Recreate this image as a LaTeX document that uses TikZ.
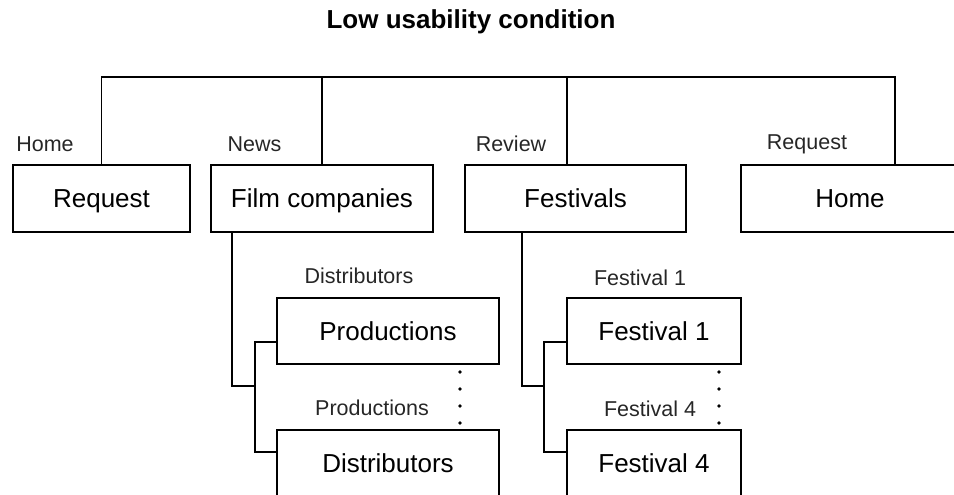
\documentclass[tikz,border=0pt]{standalone}
\usepackage{fontspec}
\setmainfont{Liberation Sans}
\begin{document}
\begin{tikzpicture}[x=1pt,y=-1pt,
  box/.style={draw, line width=1.6pt, rectangle, inner sep=0pt, minimum height=67pt,
    font=\fontsize{26}{30}\selectfont, text height=18.6pt, text depth=0pt},
  subbox/.style={box, minimum height=66pt},
  lbl/.style={anchor=base, inner sep=0pt, font=\fontsize{21.5}{25}\selectfont, text=black!85},
  conn/.style={line width=1.6pt},
  dotmark/.style={fill=black}]
\path[use as bounding box] (0,0) rectangle (954,495);
\clip (0,0) rectangle (954,495);
% title
\node[anchor=base, inner sep=0pt, font=\bfseries\fontsize{26}{30}\selectfont] (title) at (471,29) {Low usability condition};
% top level boxes
\node[box, minimum width=177pt] (req) at (101.5,198.5) {Request};
\node[box, minimum width=222pt] (film) at (322,198.5) {Film companies};
\node[box, minimum width=221pt] (fest) at (575.5,198.5) {Festivals};
\node[box, minimum width=218pt] (home) at (850,198.5) {Home};
% sub boxes
\node[subbox, minimum width=222pt] (prod) at (388,331) {Productions};
\node[subbox, minimum width=222pt] (dist) at (388,463) {Distributors};
\node[subbox, minimum width=174pt] (fone) at (654,331) {Festival 1};
\node[subbox, minimum width=174pt] (ffour) at (654,463) {Festival 4};
% labels
\node[lbl] (lhome) at (45,151) {Home};
\node[lbl] (lnews) at (254.5,151) {News};
\node[lbl] (lreview) at (511,151) {Review};
\node[lbl] (lrequest) at (807,149) {Request};
\node[lbl] (ldist) at (359,283) {Distributors};
\node[lbl] (lprod) at (372,415) {Productions};
\node[lbl] (lfone) at (640,285) {Festival 1};
\node[lbl] (lffour) at (650,416) {Festival 4};
% top connectors
\coordinate (topR) at (895,77);
\coordinate (fsx) at (567,77);
\draw[conn] (req.north) |- (topR) -- (topR |- home.north);
\draw[conn] (film.north) -- (film.north |- topR);
\draw[conn] (fsx) -- (fsx |- fest.north);
% film subtree
\coordinate (fstem) at (232,386);
\coordinate (fj) at (255,386);
\draw[conn] (film.south -| fstem) |- (fj);
\draw[conn] ([yshift=-11pt]prod.west) -| (fj) |- ([yshift=11pt]dist.west);
% festival subtree
\coordinate (gstem) at (522,386);
\coordinate (gj) at (544,386);
\draw[conn] (fest.south -| gstem) |- (gj);
\draw[conn] ([yshift=-11pt]fone.west) -| (gj) |- ([yshift=11pt]ffour.west);
% vertical ellipses
\foreach \yy in {372,389,406,423} {
  \fill[dotmark] (460,\yy) circle (1.8pt);
  \fill[dotmark] (719,\yy) circle (1.8pt);
}
\end{tikzpicture}
\end{document}
